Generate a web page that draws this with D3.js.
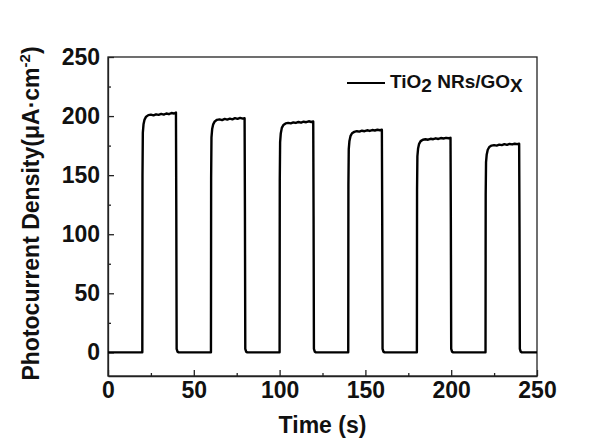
<!DOCTYPE html>
<html lang="en">
<head>
    <meta charset="UTF-8">
    <title>photocurrent</title>
    <script src="https://cdn.jsdelivr.net/npm/d3@7"></script>
    <style>
        body { margin: 0; background: #fff; }
        svg { display: block; font-family: "Liberation Sans", Arial, sans-serif; font-weight: bold; }
        .axis path, .axis line { stroke: #222; stroke-width: 1.3px; }
        .axis text { font-size: 23px; font-weight: bold; fill: #111; font-family: "Liberation Sans", Arial, sans-serif; }
    </style>
</head>
<body>
<svg id="chart"></svg>
<script>
    // axis ticks
    var xTicks = [0, 50, 100, 150, 200, 250];
    var xMinor = [25, 75, 125, 175, 225];
    var yTicks = [0, 50, 100, 150, 200, 250];
    var yMinor = [25, 75, 125, 175, 225];

    // measured trace read from the figure: [time (s), current (uA/cm2)]
    // light on at 20, 60, 100, 140, 180, 220 s, off 20 s later
    var photocurrent = [
        [0, 0], [20, 0],
        [20.1, 150], [20.3, 186], [20.7, 193], [21.3, 197], [22.2, 199.5], [23.5, 200.8], [25, 201.2], [26.5, 200.6],
        [28, 201.5], [29.5, 201], [31, 201.8], [32.5, 201.2], [34, 202.2], [35.5, 201.6], [37, 202.6], [38.5, 202.2], [39.6, 203],
        [39.8, 120], [40, 3], [40.5, 0.6], [41.2, 0], [60, 0],
        [60.1, 148], [60.3, 182], [60.7, 189], [61.3, 193], [62.2, 195.5], [63.5, 196.8], [65, 197.2], [66.5, 196.6],
        [68, 197.6], [69.5, 197], [71, 197.8], [72.5, 197.2], [74, 198.2], [75.5, 197.6], [77, 198.4], [78.5, 197.8], [79.6, 198.2],
        [79.8, 118], [80, 3], [80.5, 0.6], [81.2, 0], [100, 0],
        [100.1, 146], [100.3, 178], [100.7, 185.5], [101.3, 190], [102.2, 192.5], [103.5, 193.8], [105, 194.2], [106.5, 193.8],
        [108, 194.6], [109.5, 194.2], [111, 195], [112.5, 194.4], [114, 195.2], [115.5, 194.8], [117, 195.6], [118.5, 195], [119.6, 195.4],
        [119.8, 115], [120, 3], [120.5, 0.6], [121.2, 0], [140, 0],
        [140.1, 142], [140.3, 172], [140.7, 179], [141.3, 183], [142.2, 185.5], [143.5, 186.6], [145, 187.2], [146.5, 186.8],
        [148, 187.6], [149.5, 187.2], [151, 188], [152.5, 187.4], [154, 188.2], [155.5, 187.8], [157, 188.4], [158.5, 188], [159.6, 188.4],
        [159.8, 112], [160, 3], [160.5, 0.6], [161.2, 0], [180, 0],
        [180.1, 138], [180.3, 166], [180.7, 172.5], [181.3, 176.5], [182.2, 178.8], [183.5, 180], [185, 180.4], [186.5, 180],
        [188, 180.8], [189.5, 180.4], [191, 181.2], [192.5, 180.6], [194, 181.4], [195.5, 181], [197, 181.6], [198.5, 181.2], [199.6, 181.6],
        [199.8, 108], [200, 3], [200.5, 0.6], [201.2, 0], [220, 0],
        [220.1, 134], [220.3, 161], [220.7, 167.5], [221.3, 171.5], [222.2, 173.8], [223.5, 175], [225, 175.4], [226.5, 175],
        [228, 175.8], [229.5, 175.4], [231, 176.2], [232.5, 175.6], [234, 176.4], [235.5, 176], [237, 176.6], [238.5, 176.2], [239.6, 176.6],
        [239.8, 105], [240, 3], [240.5, 0.6], [241.2, 0], [250, 0]
    ];

    var width = 613, height = 441;
    var margins = { top: 57, right: 76, bottom: 65, left: 108 };
    var innerW = width - margins.left - margins.right;
    var innerH = height - margins.top - margins.bottom;

    var svg = d3.select('#chart').attr('width', width).attr('height', height);
    var g = svg.append('g').attr('transform', 'translate(' + margins.left + ',' + margins.top + ')');

    var x = d3.scaleLinear().domain([0, 250]).range([0, innerW]);
    var y = d3.scaleLinear().domain([-20, 250]).range([innerH, 0]);

    // frame
    g.append('rect')
        .attr('width', innerW).attr('height', innerH)
        .attr('fill', 'none').attr('stroke', '#222').attr('stroke-width', 1.3);

    // minor ticks
    g.append('g').attr('class', 'axis')
        .attr('transform', 'translate(0,' + innerH + ')')
        .call(d3.axisBottom(x).tickValues(xMinor).tickSize(-3).tickFormat(''))
        .select('.domain').remove();
    g.append('g').attr('class', 'axis')
        .call(d3.axisLeft(y).tickValues(yMinor).tickSize(-3).tickFormat(''))
        .select('.domain').remove();

    // major axes
    g.append('g').attr('class', 'axis')
        .attr('transform', 'translate(0,' + innerH + ')')
        .call(d3.axisBottom(x).tickValues(xTicks).tickSize(-6).tickPadding(6).tickSizeOuter(0));
    g.append('g').attr('class', 'axis')
        .call(d3.axisLeft(y).tickValues(yTicks).tickSize(-6).tickPadding(8).tickSizeOuter(0));

    // trace
    var line = d3.line()
        .x(function (d) { return x(d[0]); })
        .y(function (d) { return y(d[1]); });

    g.append('path')
        .datum(photocurrent)
        .attr('d', line)
        .attr('fill', 'none')
        .attr('stroke', '#000')
        .attr('stroke-width', 2.4)
        .attr('stroke-linejoin', 'round');

    // axis titles
    svg.append('text')
        .attr('x', margins.left + innerW / 2)
        .attr('y', 433)
        .attr('text-anchor', 'middle')
        .attr('font-size', 23)
        .attr('fill', '#111')
        .text('Time (s)');

    var yt = svg.append('text')
        .attr('transform', 'translate(39,' + (margins.top + innerH / 2 - 3) + ') rotate(-90)')
        .attr('text-anchor', 'middle')
        .attr('font-size', 23)
        .attr('fill', '#111');
    yt.append('tspan').text('Photocurrent Density(\u03bcA\u00b7cm');
    yt.append('tspan').attr('dy', -9).attr('font-size', 15).text('-2');
    yt.append('tspan').attr('dy', 9).text(')');

    // legend
    var lg = svg.append('g');
    lg.append('line')
        .attr('x1', 347).attr('x2', 385).attr('y1', 83).attr('y2', 83)
        .attr('stroke', '#000').attr('stroke-width', 2);
    var lt = lg.append('text')
        .attr('x', 390).attr('y', 88)
        .attr('font-size', 19)
        .attr('fill', '#111');
    lt.append('tspan').text('TiO');
    lt.append('tspan').attr('dy', 4).text('2');
    lt.append('tspan').attr('dy', -4).text(' NRs/GO');
    lt.append('tspan').attr('dy', 4).text('X');
</script>
</body>
</html>
